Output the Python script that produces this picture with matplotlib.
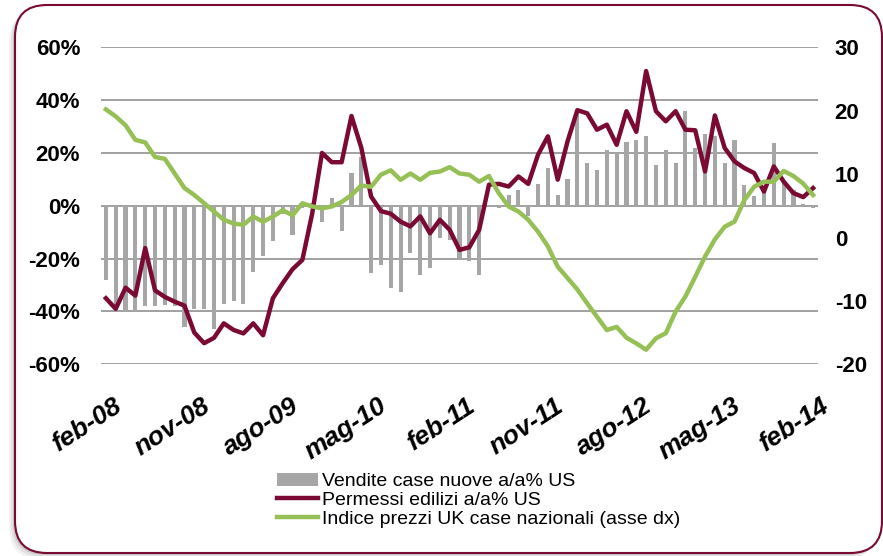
import numpy as np
import matplotlib.pyplot as plt
from matplotlib.patches import FancyBboxPatch, Rectangle
from matplotlib.lines import Line2D
from matplotlib.transforms import ScaledTranslation

plt.rcParams['font.family'] = ['Liberation Sans', 'DejaVu Sans']

# --- dati (mensili, feb-08 .. feb-14) ---
mesi_it = ['gen', 'feb', 'mar', 'apr', 'mag', 'giu', 'lug', 'ago', 'set', 'ott', 'nov', 'dic']
labels = []
for k in range(73):
    m = (1 + k) % 12
    y = 8 + (1 + k) // 12
    labels.append('%s-%02d' % (mesi_it[m], y))

vendite = [-28, -40, -40, -40, -38, -38, -37.5, -38, -46, -39,
           -39, -46.5, -37, -36, -37, -25, -19, -13.5, -3, -11,
           -1, 1, -6.3, 3, -9.5, 12.4, 18.5, -25.6, -22.4, -31.3,
           -32.5, -17.7, -26.3, -23.7, -12, -13, -20, -21, -26.3, 0,
           -1, 4.2, 6.1, -4, 8.2, 14.3, 4.2, 10.1, 35, 16.2,
           13.7, 21, 20, 24.3, 25, 26.3, 15.6, 21, 16.2, 35.8,
           21.7, 27, 26.6, 16.2, 25, 8, 3.8, 6, 23.7, 9,
           6, 0.5, -1]

permessi = [-35, -39, -31, -34, -16, -32, -34.5, -36.3, -37.8, -48,
            -52, -50, -44.5, -47, -48.3, -44.5, -49, -35, -29.3, -24,
            -20.5, -3, 20, 16.5, 16.5, 34, 22, 3.5, -2, -3,
            -6, -7.8, -4, -10.4, -5.3, -9.1, -16.7, -15.7, -9.1, 8,
            8.3, 7.3, 11.1, 8.3, 19.4, 26.3, 9.9, 24.4, 36.2, 35,
            28.8, 30.7, 23.1, 35.8, 28, 51, 35.8, 32, 35.8, 28.8,
            28.6, 13, 34.2, 21.9, 16.8, 14.3, 12.4, 5.4, 14.9, 9.2,
            4.8, 3.3, 6.7]

indice_uk = [20.2, 19.1, 17.7, 15.4, 15, 12.7, 12.4, 10.1, 7.8, 6.7,
             5.4, 4.1, 2.8, 2.2, 2.0, 3.3, 2.5, 3.3, 4.3, 3.5,
             5.4, 4.9, 4.6, 4.9, 5.6, 6.7, 8.2, 8.0, 9.9, 10.6,
             9.1, 10.1, 9.1, 10.2, 10.4, 11.1, 10.1, 9.9, 8.8, 9.7,
             7, 4.9, 4.1, 2.8, 0.9, -1.4, -4.6, -6.4, -8.2, -10.4,
             -12.5, -14.6, -14.1, -15.8, -16.7, -17.7, -15.9, -15.1, -11.7, -9.3,
             -6.2, -3, -0.3, 1.7, 2.5, 5.9, 8.0, 8.8, 8.8, 10.5,
             9.7, 8.5, 6.7]

grigio = '#a6a6a6'
rosso = '#7a0a33'
verde = '#96c056'

x = np.arange(len(labels))

fig = plt.figure(figsize=(8.83, 5.56), dpi=100)

# cornice arrotondata con ombra
bg = fig.add_axes([0, 0, 1, 1], zorder=-10)
bg.set_xlim(0, 883)
bg.set_ylim(556, 0)
bg.axis('off')
for d, a in [(6, 0.10), (4, 0.15), (2, 0.25)]:
    bg.add_patch(FancyBboxPatch((15 - d, 5 + d), 867, 548,
                                boxstyle='round,pad=0,rounding_size=32',
                                fc='#808080', ec='none', alpha=a))
bg.add_patch(FancyBboxPatch((15, 5), 867, 548,
                            boxstyle='round,pad=0,rounding_size=32',
                            fc='white', ec=rosso, lw=1.5))

ax = fig.add_axes([101 / 883, 1 - 364.3 / 556, 717 / 883, 317 / 556])
ax.patch.set_alpha(0)
ax.bar(x, vendite, width=0.42, color=grigio, zorder=2)
ax.plot(x, permessi, color=rosso, lw=3.2, zorder=3)
ax.set_xlim(-0.5, len(labels) - 0.5)
ax.set_ylim(-60, 60)
ax.set_yticks(np.arange(-60, 61, 20))
ax.set_yticklabels(['%d%%' % v for v in np.arange(-60, 61, 20)],
                   fontsize=16, fontweight='bold')
ax.yaxis.grid(True, color='#a0a0a0', lw=1.4, zorder=0)
ax.set_axisbelow(True)
for s in ax.spines.values():
    s.set_visible(False)
ax.tick_params(axis='both', length=0)
ax.tick_params(axis='y', pad=15)

tick_pos = x[::9]
ax.set_xticks(tick_pos)
ax.set_xticklabels([labels[i] for i in tick_pos], rotation=33, ha='right',
                   rotation_mode='anchor', fontsize=19, fontweight='bold',
                   fontstyle='italic')
ax.tick_params(axis='x', pad=21)
shift = ScaledTranslation(7 / 100, 0, fig.dpi_scale_trans)
for lab in ax.get_xticklabels():
    lab.set_transform(lab.get_transform() + shift)

ax2 = ax.twinx()
ax2.plot(x, indice_uk, color=verde, lw=3.2, zorder=4)
ax2.set_ylim(-20, 30)
ax2.set_yticks(np.arange(-20, 31, 10))
ax2.set_yticklabels([str(v) for v in np.arange(-20, 31, 10)],
                    fontsize=16, fontweight='bold')
for s in ax2.spines.values():
    s.set_visible(False)
ax2.tick_params(axis='y', which='both', length=0, pad=12)

handles = [Rectangle((0, 0), 1, 1, fc=grigio, ec='none'),
           Line2D([], [], color=rosso, lw=3.2),
           Line2D([], [], color=verde, lw=3.2)]
names = ['Vendite case nuove a/a% US',
         'Permessi edilizi a/a% US',
         'Indice prezzi UK case nazionali (asse dx)']
fig.legend(handles, names, loc='upper left', bbox_to_anchor=(269 / 883, 1 - 465 / 556),
           frameon=False, fontsize=14, handlelength=2.1, handletextpad=0.2,
           labelspacing=0.05, borderaxespad=0)

fig.savefig('out.png', dpi=100)
